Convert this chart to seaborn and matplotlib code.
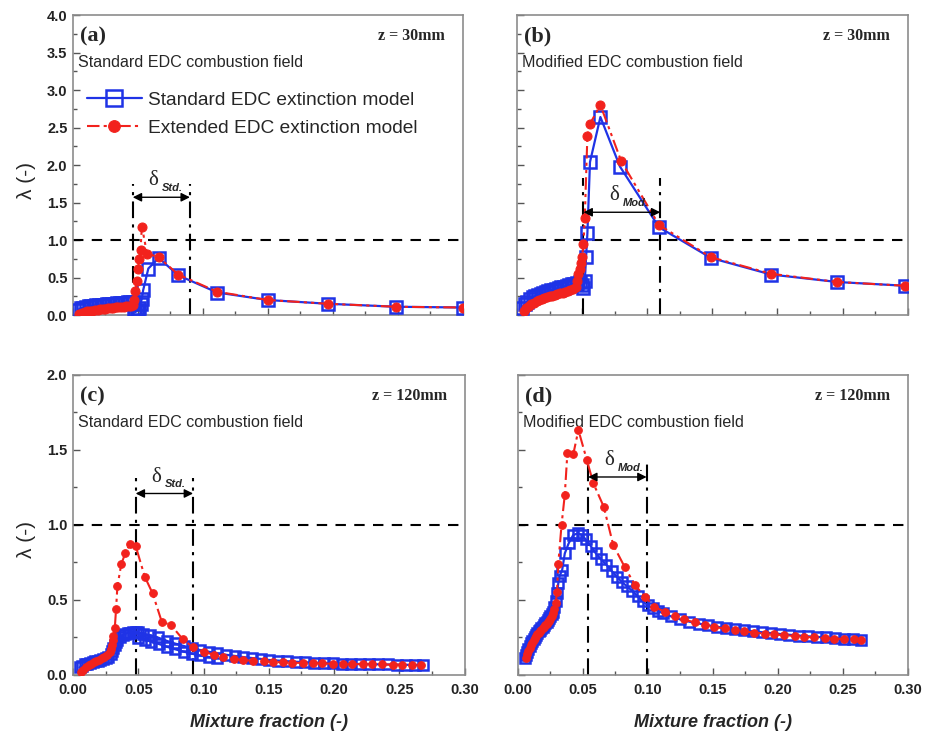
import matplotlib
matplotlib.use("Agg")
import matplotlib.pyplot as plt
import seaborn as sns
from matplotlib.ticker import MultipleLocator, FormatStrFormatter


# (a) z = 30 mm, standard EDC combustion field
A_STD_X = [0.004, 0.006, 0.008, 0.010, 0.012, 0.014, 0.016, 0.018, 0.020, 0.022, 0.024,
           0.026, 0.028, 0.030, 0.032, 0.034, 0.036, 0.038, 0.040, 0.042, 0.044, 0.046,
           0.047, 0.048, 0.049, 0.050, 0.051, 0.052, 0.053, 0.054, 0.058, 0.066, 0.081,
           0.111, 0.150, 0.196, 0.249, 0.300]
A_STD_Y = [0.07, 0.09, 0.10, 0.11, 0.115, 0.12, 0.125, 0.13, 0.133, 0.136, 0.14,
           0.143, 0.146, 0.15, 0.153, 0.156, 0.16, 0.163, 0.166, 0.17, 0.173, 0.176,
           0.05, 0.04, 0.05, 0.07, 0.10, 0.15, 0.22, 0.33, 0.62, 0.76, 0.53,
           0.30, 0.20, 0.15, 0.11, 0.10]
A_EXT_X = [0.005, 0.007, 0.009, 0.011, 0.013, 0.015, 0.017, 0.019, 0.021, 0.023, 0.025,
           0.027, 0.029, 0.031, 0.033, 0.035, 0.037, 0.039, 0.041, 0.043, 0.045,
           0.046, 0.047, 0.048, 0.049, 0.050, 0.051, 0.052, 0.053, 0.057, 0.066, 0.081,
           0.111, 0.150, 0.196, 0.249, 0.300]
A_EXT_Y = [0.02, 0.03, 0.04, 0.05, 0.055, 0.06, 0.065, 0.07, 0.075, 0.08, 0.085,
           0.09, 0.095, 0.10, 0.103, 0.106, 0.11, 0.113, 0.117, 0.12, 0.125,
           0.13, 0.20, 0.32, 0.45, 0.62, 0.75, 0.87, 1.18, 0.82, 0.77, 0.54,
           0.31, 0.20, 0.15, 0.11, 0.10]

# (b) z = 30 mm, modified EDC combustion field
B_STD_X = [0.004, 0.006, 0.008, 0.010, 0.012, 0.014, 0.016, 0.018, 0.020, 0.022, 0.024,
           0.026, 0.028, 0.030, 0.032, 0.034, 0.036, 0.038, 0.040, 0.042, 0.044, 0.046,
           0.048, 0.050, 0.051, 0.052, 0.053, 0.054, 0.056, 0.064, 0.079, 0.109, 0.149,
           0.195, 0.246, 0.298]
B_STD_Y = [0.10, 0.15, 0.18, 0.21, 0.235, 0.255, 0.27, 0.285, 0.30, 0.31, 0.32,
           0.33, 0.34, 0.35, 0.36, 0.37, 0.38, 0.39, 0.40, 0.41, 0.42, 0.43,
           0.44, 0.40, 0.36, 0.45, 0.77, 1.09, 2.04, 2.64, 1.98, 1.17, 0.76,
           0.54, 0.44, 0.39]
B_EXT_X = [0.005, 0.007, 0.009, 0.011, 0.013, 0.015, 0.017, 0.019, 0.021, 0.023, 0.025,
           0.027, 0.029, 0.031, 0.033, 0.035, 0.037, 0.039, 0.041, 0.043, 0.045,
           0.046, 0.047, 0.048, 0.049, 0.050, 0.051, 0.052, 0.054, 0.056, 0.064, 0.080,
           0.109, 0.149, 0.195, 0.246, 0.298]
B_EXT_Y = [0.05, 0.09, 0.12, 0.145, 0.165, 0.185, 0.20, 0.215, 0.23, 0.24, 0.25,
           0.26, 0.27, 0.28, 0.29, 0.30, 0.31, 0.32, 0.33, 0.35, 0.38,
           0.45, 0.55, 0.62, 0.70, 0.78, 0.95, 1.30, 2.39, 2.55, 2.80, 2.05,
           1.20, 0.77, 0.55, 0.44, 0.39]

# (c) z = 120 mm, standard EDC combustion field
C_STD_X = [0.005, 0.007, 0.009, 0.011, 0.013, 0.015, 0.017, 0.019, 0.021, 0.023, 0.025,
           0.027, 0.029, 0.030, 0.031, 0.032, 0.033, 0.034, 0.036, 0.038, 0.040, 0.042,
           0.044, 0.046, 0.048, 0.050, 0.054, 0.059, 0.065, 0.072, 0.078, 0.085, 0.091,
           0.097, 0.104, 0.110, 0.117, 0.124, 0.130, 0.137, 0.144, 0.150, 0.157, 0.164,
           0.171, 0.178, 0.185, 0.192, 0.199, 0.206, 0.213, 0.220, 0.227, 0.234, 0.241,
           0.248, 0.255, 0.262, 0.268]
C_STD_Y = [0.05, 0.06, 0.07, 0.075, 0.08, 0.085, 0.09, 0.095, 0.10, 0.105, 0.11,
           0.12, 0.14, 0.16, 0.18, 0.20, 0.22, 0.235, 0.255, 0.267, 0.275, 0.28,
           0.283, 0.286, 0.288, 0.285, 0.275, 0.265, 0.25, 0.227, 0.21, 0.193, 0.18,
           0.167, 0.155, 0.144, 0.135, 0.127, 0.12, 0.113, 0.107, 0.10, 0.096, 0.092,
           0.088, 0.085, 0.082, 0.08, 0.078, 0.076, 0.074, 0.073, 0.072, 0.071, 0.07,
           0.069, 0.068, 0.067, 0.067]
# second (lower) branch of the standard model after the peak
C_STD2_X = [0.050, 0.055, 0.060, 0.066, 0.072, 0.078, 0.085, 0.091, 0.097, 0.104, 0.110]
C_STD2_Y = [0.245, 0.235, 0.222, 0.206, 0.188, 0.172, 0.155, 0.142, 0.13, 0.12, 0.113]
C_EXT_X = [0.006, 0.008, 0.010, 0.012, 0.014, 0.016, 0.018, 0.020, 0.022, 0.024, 0.026,
           0.028, 0.029, 0.030, 0.0305, 0.031, 0.032, 0.033, 0.034, 0.037, 0.040, 0.0435,
           0.048, 0.055, 0.061, 0.068, 0.075, 0.084, 0.092, 0.100, 0.108, 0.115, 0.123,
           0.130, 0.138, 0.146, 0.153, 0.161, 0.168, 0.176, 0.184, 0.191, 0.199, 0.207,
           0.214, 0.222, 0.229, 0.237, 0.245, 0.252, 0.260, 0.267]
C_EXT_Y = [0.02, 0.035, 0.05, 0.065, 0.075, 0.085, 0.095, 0.10, 0.11, 0.12, 0.13,
           0.15, 0.17, 0.20, 0.23, 0.26, 0.31, 0.44, 0.59, 0.74, 0.81, 0.87,
           0.86, 0.655, 0.544, 0.355, 0.333, 0.24, 0.184, 0.156, 0.134, 0.118, 0.107,
           0.10, 0.094, 0.09, 0.087, 0.084, 0.082, 0.08, 0.078, 0.077, 0.075, 0.074,
           0.073, 0.072, 0.071, 0.07, 0.069, 0.069, 0.068, 0.068]

# (d) z = 120 mm, modified EDC combustion field
D_STD_X = [0.005, 0.006, 0.007, 0.008, 0.009, 0.010, 0.011, 0.012, 0.013, 0.014, 0.015,
           0.016, 0.017, 0.018, 0.019, 0.020, 0.021, 0.022, 0.023, 0.024, 0.025, 0.026,
           0.027, 0.028, 0.029, 0.030, 0.031, 0.032, 0.034, 0.036, 0.039, 0.0425, 0.046,
           0.049, 0.052, 0.056, 0.060, 0.064, 0.068, 0.072, 0.076, 0.080, 0.084, 0.088,
           0.092, 0.096, 0.100, 0.104, 0.108, 0.112, 0.118, 0.125, 0.132, 0.139, 0.146,
           0.153, 0.160, 0.167, 0.174, 0.181, 0.188, 0.195, 0.202, 0.209, 0.216, 0.223,
           0.230, 0.237, 0.244, 0.251, 0.258, 0.264]
D_STD_Y = [0.11, 0.13, 0.155, 0.175, 0.195, 0.21, 0.225, 0.24, 0.255, 0.268, 0.28,
           0.29, 0.30, 0.31, 0.32, 0.33, 0.344, 0.355, 0.365, 0.377, 0.39, 0.405,
           0.42, 0.45, 0.49, 0.544, 0.61, 0.66, 0.70, 0.81, 0.878, 0.933, 0.944,
           0.935, 0.905, 0.86, 0.81, 0.77, 0.735, 0.695, 0.655, 0.62, 0.59, 0.56,
           0.525, 0.49, 0.465, 0.445, 0.425, 0.41, 0.39, 0.37, 0.355, 0.343, 0.332,
           0.322, 0.313, 0.305, 0.298, 0.291, 0.285, 0.279, 0.273, 0.268, 0.263, 0.258,
           0.254, 0.25, 0.246, 0.242, 0.239, 0.236]
D_EXT_X = [0.006, 0.007, 0.008, 0.009, 0.010, 0.011, 0.012, 0.013, 0.014, 0.015, 0.016,
           0.017, 0.018, 0.019, 0.020, 0.021, 0.022, 0.023, 0.024, 0.025, 0.026, 0.027,
           0.028, 0.029, 0.030, 0.031, 0.0335, 0.036, 0.038, 0.0425, 0.0465, 0.053, 0.058,
           0.066, 0.0733, 0.082, 0.090, 0.0977, 0.105, 0.113, 0.121, 0.128, 0.136, 0.144,
           0.151, 0.159, 0.167, 0.174, 0.182, 0.190, 0.197, 0.205, 0.213, 0.220, 0.228,
           0.236, 0.243, 0.251, 0.259, 0.264]
D_EXT_Y = [0.11, 0.14, 0.16, 0.18, 0.20, 0.215, 0.23, 0.245, 0.26, 0.27, 0.28,
           0.29, 0.30, 0.31, 0.32, 0.33, 0.34, 0.35, 0.36, 0.375, 0.39, 0.41,
           0.44, 0.48, 0.55, 0.74, 1.0, 1.2, 1.478, 1.47, 1.633, 1.433, 1.278,
           1.122, 0.867, 0.722, 0.60, 0.522, 0.456, 0.42, 0.395, 0.37, 0.35, 0.335,
           0.32, 0.31, 0.30, 0.29, 0.283, 0.276, 0.27, 0.265, 0.26, 0.255, 0.25,
           0.246, 0.243, 0.24, 0.237, 0.235]

PANEL_LABELS = ["(a)", "(b)", "(c)", "(d)"]
HEIGHTS = ["z = 30mm", "z = 30mm", "z = 120mm", "z = 120mm"]
FIELDS = ["Standard EDC combustion field", "Modified EDC combustion field",
          "Standard EDC combustion field", "Modified EDC combustion field"]
DELTA_NAMES = ["Std.", "Mod.", "Std.", "Mod."]
# extinction window: left bound, right bound (mixture fraction)
DELTA_LEFT = [0.046, 0.051, 0.048, 0.054]
DELTA_RIGHT = [0.090, 0.110, 0.092, 0.099]
LEGEND_LABELS = ["Standard EDC extinction model", "Extended EDC extinction model"]

BLUE = "#1f33e6"
RED = "#f2221d"
SANS = ["Liberation Sans", "DejaVu Sans"]
SERIF = ["Liberation Serif", "DejaVu Serif"]

sns.set_style("ticks")
plt.rcParams["font.family"] = SANS

fig = plt.figure(figsize=(9.3, 7.36), dpi=100)
positions = [
    [0.0785, 0.572, 0.419, 0.4076],
    [0.556, 0.572, 0.420, 0.4076],
    [0.0785, 0.0829, 0.421, 0.4076],
    [0.557, 0.0829, 0.419, 0.4076],
]
series = [
    (A_STD_X, A_STD_Y, A_EXT_X, A_EXT_Y),
    (B_STD_X, B_STD_Y, B_EXT_X, B_EXT_Y),
    (C_STD_X, C_STD_Y, C_EXT_X, C_EXT_Y),
    (D_STD_X, D_STD_Y, D_EXT_X, D_EXT_Y),
]
ymaxes = [4.0, 4.0, 2.0, 2.0]
# vertical extent of the window lines and height of the arrow
line_tops = [1.75, 1.83, 1.31, 1.41]
arrow_ys = [1.57, 1.37, 1.21, 1.32]

red_ls = (0, (6, 2, 1.5, 2, 1.5, 2))
for i in range(4):
    ax = fig.add_axes(positions[i])
    sx, sy, ex, ey = series[i]
    top_row = i < 2
    sq = 9 if top_row else 7.5
    dot = 6.5 if top_row else 5.5

    ax.axhline(1.0, color="black", lw=1.5, ls=(0, (5, 4)), zorder=1)
    ax.vlines([DELTA_LEFT[i], DELTA_RIGHT[i]], 0, line_tops[i], color="black",
              lw=1.5, ls=(0, (8, 3, 1.5, 3)), zorder=1)

    sns.lineplot(x=sx, y=sy, ax=ax, sort=False, estimator=None, color=BLUE, lw=1.6,
                 marker="s", markersize=sq, markerfacecolor="none",
                 markeredgecolor=BLUE, markeredgewidth=1.8, legend=False, zorder=3)
    line_std = ax.lines[-1]
    if i == 2:
        sns.lineplot(x=C_STD2_X, y=C_STD2_Y, ax=ax, sort=False, estimator=None,
                     color=BLUE, lw=1.6, marker="s", markersize=sq,
                     markerfacecolor="none", markeredgecolor=BLUE,
                     markeredgewidth=1.8, legend=False, zorder=3)
    sns.lineplot(x=ex, y=ey, ax=ax, sort=False, estimator=None, color=RED, lw=1.5,
                 linestyle=red_ls, marker="o", markersize=dot, markerfacecolor=RED,
                 markeredgecolor=RED, legend=False, zorder=4)
    line_ext = ax.lines[-1]

    # extinction window arrow and label
    ax.annotate("", xy=(DELTA_RIGHT[i], arrow_ys[i]), xytext=(DELTA_LEFT[i], arrow_ys[i]),
                arrowprops=dict(arrowstyle="<|-|>", color="black", lw=1.0,
                                mutation_scale=13, shrinkA=0, shrinkB=0), zorder=5)
    xm = 0.5 * (DELTA_LEFT[i] + DELTA_RIGHT[i]) - 0.006
    ax.annotate("δ", xy=(xm, arrow_ys[i]), xytext=(0, 5), textcoords="offset points",
                ha="center", va="bottom", fontsize=15, family=SERIF, zorder=5)
    ax.annotate(DELTA_NAMES[i], xy=(xm, arrow_ys[i]), xytext=(6, 3),
                textcoords="offset points", ha="left", va="bottom", fontsize=8,
                fontweight="bold", style="italic", zorder=5)

    ax.text(0.018, 0.93, PANEL_LABELS[i], transform=ax.transAxes, fontsize=16,
            fontweight="bold", family=SERIF, va="center", ha="left")
    ax.text(0.955, 0.93, HEIGHTS[i], transform=ax.transAxes, fontsize=11.5,
            fontweight="bold", family=SERIF, va="center", ha="right")
    ax.text(0.012, 0.843, FIELDS[i], transform=ax.transAxes, fontsize=11.6,
            va="center", ha="left")

    ax.set_xlim(0, 0.30)
    ax.set_ylim(0, ymaxes[i])
    ax.xaxis.set_major_locator(MultipleLocator(0.05))
    ax.xaxis.set_minor_locator(MultipleLocator(0.025))
    ax.yaxis.set_major_locator(MultipleLocator(0.5))
    ax.yaxis.set_minor_locator(MultipleLocator(0.25))
    ax.xaxis.set_major_formatter(FormatStrFormatter("%.2f"))
    ax.yaxis.set_major_formatter(FormatStrFormatter("%.1f"))
    ax.tick_params(which="both", direction="in", top=False, right=False,
                   color="#555555", width=1.0)
    ax.tick_params(which="major", length=5, labelsize=10.5, labelcolor="#222222")
    ax.tick_params(axis="x", which="major", pad=6)
    ax.tick_params(axis="y", which="major", pad=4)
    ax.tick_params(which="minor", length=3)
    for lab in ax.get_xticklabels() + ax.get_yticklabels():
        lab.set_fontweight("bold")
    for sp in ax.spines.values():
        sp.set_color("#8c8c8c")
        sp.set_linewidth(1.2)

    if top_row:
        ax.tick_params(labelbottom=False)
        ax.set_xlabel("")
    else:
        ax.set_xlabel("Mixture fraction (-)", fontsize=13, fontweight="bold",
                      style="italic", labelpad=12)
    if i % 2 == 1:
        ax.tick_params(labelleft=False)
        ax.set_ylabel("")
    else:
        ax.set_ylabel("λ (-)", fontsize=15)
        ax.yaxis.set_label_coords(-0.095, 0.45)

    if i == 0:
        ax.legend([line_std, line_ext], LEGEND_LABELS, loc="upper left",
                  bbox_to_anchor=(0.015, 0.77), frameon=False, fontsize=13.8,
                  handlelength=2.9, handletextpad=0.3, labelspacing=0.55,
                  borderaxespad=0, markerscale=1.3)

fig.savefig("out.png", dpi=100)
